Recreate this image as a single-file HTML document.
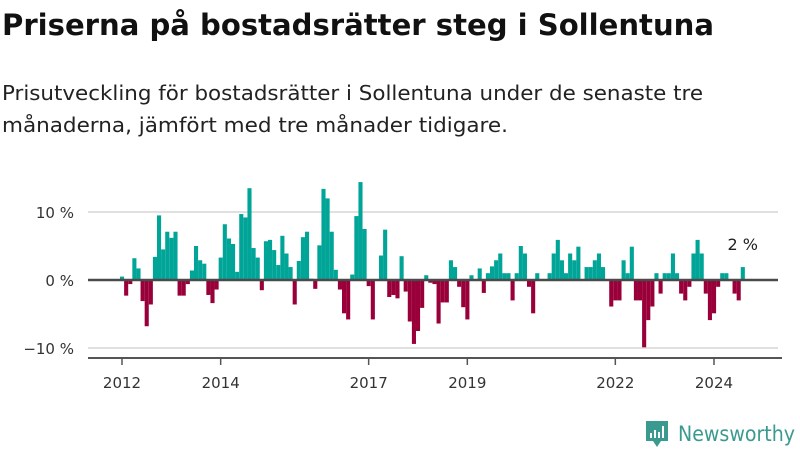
<!DOCTYPE html>
<html><head><meta charset="utf-8"><style>
html,body{margin:0;padding:0;background:#fff;width:800px;height:450px;overflow:hidden}
svg text{font-family:"DejaVu Sans","Liberation Sans",sans-serif}
</style></head><body>
<svg id="chart" width="800" height="450" viewBox="0 0 800 450">
<text x="2" y="35" font-size="29" font-weight="bold" fill="#111" textLength="712" lengthAdjust="spacingAndGlyphs">Priserna på bostadsrätter steg i Sollentuna</text>
<text x="2" y="100" font-size="20" fill="#222" textLength="701" lengthAdjust="spacingAndGlyphs">Prisutveckling för bostadsrätter i Sollentuna under de senaste tre</text>
<text x="2" y="132" font-size="20" fill="#222" textLength="506" lengthAdjust="spacingAndGlyphs">månaderna, jämfört med tre månader tidigare.</text>
<g id="grid"></g><g id="bars"></g><g id="axes"></g>
<g>
<path d="M646 421 h22 v20 h-7 l-4 6 l-4 -6 h-7 z" fill="#3a9a8f"/>
<rect x="650" y="433" width="2" height="5" fill="#fff"/><rect x="654" y="430" width="2" height="8" fill="#fff"/><rect x="658" y="432" width="2" height="6" fill="#fff"/><rect x="662" y="426" width="2" height="12" fill="#fff"/>
<text x="678" y="441" font-size="21" fill="#3a9a8f" textLength="117" lengthAdjust="spacingAndGlyphs" font-family="Liberation Sans, sans-serif">Newsworthy</text>
</g>
</svg>
<script>
const startYear = 2012;
const values = [0.5,-2.3,-0.6,3.2,1.7,-3.1,-6.8,-3.6,3.4,9.5,4.5,7.1,6.2,7.1,-2.3,-2.3,-0.6,1.4,5.0,2.9,2.4,-2.2,-3.4,-1.4,3.3,8.2,6.1,5.3,1.2,9.7,9.2,13.5,4.7,3.3,-1.5,5.7,5.9,4.4,2.2,6.5,3.9,1.9,-3.6,2.8,6.3,7.1,0.2,-1.3,5.1,13.4,12.0,
7.1,1.5,-1.4,-4.9,-5.8,0.8,9.4,14.4,7.5,-0.9,-5.8,0,3.6,7.4,-2.5,-2.2,-2.7,3.5,-1.7,-6.1,-9.4,-7.5,-4.1,0.7,-0.4,-0.6,-6.4,-3.3,-3.3,2.9,1.9,-1.0,-4.0,-5.8,0.7,0,1.7,-1.9,1.0,2.0,2.9,3.9,1.0,1.0,-3.0,1.0,5.0,3.9,-1.0,-4.9,
1.0,0,0,
1.0,3.9,5.9,2.9,1.0,3.9,2.9,4.9,0,1.9,1.9,2.9,3.9,1.9,0,-3.9,-3.0,-3.0,2.9,1.0,4.9,-3.0,-3.0,-9.9,-5.9,-3.9,1.0,-2.0,1.0,1.0,3.9,1.0,-2.0,-3.0,-1.0,3.9,5.9,3.9,-2.0,-5.9,-4.9,-1.0,1.0,1.0,0,-2.0,-3.0,1.9];
const yTicks = [10,0,-10];
const yTickLabels = ["10 %","0 %","\u221210 %"];
const xTickYears = [2012,2014,2017,2019,2022,2024];
const lastLabel = "2 %";
const NS="http://www.w3.org/2000/svg";
const x = i => 122 + 4.111*i;
const y = v => 280 - 6.8*v;
function mk(t,a,p){const e=document.createElementNS(NS,t);for(const k in a)e.setAttribute(k,a[k]);p.appendChild(e);return e;}
const grid=document.getElementById('grid'),bars=document.getElementById('bars'),axes=document.getElementById('axes');
yTicks.forEach((t,k)=>{
  if(t!==0){const l=mk('line',{x1:88,x2:778,y1:y(t),y2:y(t),stroke:'#e0e0e0','stroke-width':2},grid);
  
  }
  const tx=mk('text',{x:74,y:y(t)+6,'text-anchor':'end','font-size':15,fill:'#333'},grid);
  tx.textContent=yTickLabels[k];
  
  
});
values.forEach((v,i)=>{
  const r=mk('rect',{x:x(i)-2,width:4.1,y:Math.min(y(v),280),height:Math.abs(y(v)-280),fill:v>=0?'#00a598':'#99003a'},bars);
  
  
});
const z=mk('line',{x1:88,x2:778,y1:280,y2:280,stroke:'#4a4a4a','stroke-width':2.5},axes);


const ax=mk('line',{x1:88,x2:782,y1:358,y2:358,stroke:'#555','stroke-width':2},axes);


xTickYears.forEach(yr=>{
  const xi=x((yr-startYear)*12);
  const t=mk('line',{x1:xi,x2:xi,y1:358,y2:365,stroke:'#555','stroke-width':1.5},axes);
  
  
  const l=mk('text',{x:xi,y:388,'text-anchor':'middle','font-size':15,fill:'#333'},axes);
  l.textContent=yr;
  
  
});
const li=values.length-1;
const lab=mk('text',{x:x(li),y:y(values[li])-17,'text-anchor':'middle','font-size':16,fill:'#222'},axes);
lab.textContent=lastLabel;


</script>
</body></html>
